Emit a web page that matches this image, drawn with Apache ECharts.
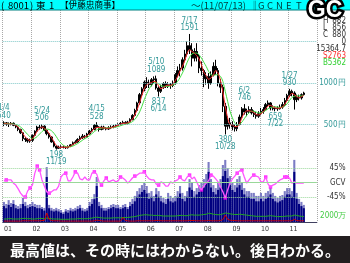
<!DOCTYPE html>
<html><head><meta charset="utf-8">
<script src="https://cdn.jsdelivr.net/npm/echarts@6/dist/echarts.min.js"></script>
<style>html,body{margin:0;padding:0;background:#fff}#c{width:350px;height:263px}</style>
</head><body><div id="c"></div><script>
// ---- categories (monthly, Jan 2001 .. Jul 2011, plus empty months to the right edge) ----
const startYear = 2001;
const monthCount = 127;
const padMonths = 5;
const categories = [];
for (let i = 0; i < monthCount + padMonths; i++) {
  const y = startYear + Math.floor(i / 12), m = i % 12 + 1;
  categories.push(y + '-' + String(m).padStart(2, '0'));
}

// ---- monthly prices (yen) ----
const priceOpen = [
  505,520,500,505,515,490,470,440,400,330,320,300,
  310,370,420,470,460,480,430,390,350,290,240,215,
  225,230,225,220,235,255,280,290,320,340,360,350,
  385,420,440,490,470,440,470,455,445,460,470,480,
  490,500,515,525,510,530,560,610,670,760,860,930,
  1010,1000,980,1040,1050,940,900,950,990,960,980,970,
  1000,1100,1150,1180,1280,1350,1450,1400,1300,1380,1320,1180,
  1150,1050,1080,1000,1100,1200,1150,1000,950,720,480,520,
  500,470,450,500,590,690,650,660,680,640,620,600,
  630,660,680,740,760,700,690,700,690,710,740,790,
  850,900,880,800,830,820,860
];
const priceClose = [
  520,500,505,515,490,470,440,400,330,320,300,310,
  370,420,470,460,480,430,390,350,290,240,215,225,
  230,225,220,235,255,280,290,320,340,360,350,385,
  420,440,490,470,440,470,455,445,460,470,480,490,
  500,515,525,510,530,560,610,670,760,860,930,1010,
  1000,980,1040,1050,940,900,950,990,960,980,970,1000,
  1100,1150,1180,1280,1350,1450,1400,1300,1380,1320,1180,1150,
  1050,1080,1000,1100,1200,1150,1000,950,720,480,520,500,
  470,450,500,590,690,650,660,680,640,620,600,630,
  660,680,740,760,700,690,700,690,710,740,790,850,
  900,880,800,830,820,860,880
];
const priceLow = [
  480,485,470,490,480,455,420,385,300,290,280,280,
  290,360,410,440,445,420,370,330,280,225,198,205,
  210,212,205,210,228,250,270,280,305,325,330,340,
  380,405,430,455,415,430,440,430,435,445,455,465,
  475,490,500,495,500,525,550,600,655,740,830,900,
  940,940,960,1000,920,837,880,930,940,940,930,950,
  980,1070,1080,1150,1250,1320,1350,1200,1260,1260,1120,1090,
  950,980,930,980,1080,1100,960,880,650,380,440,450,
  430,415,420,490,570,620,600,640,620,590,570,580,
  610,630,670,720,670,670,659,665,680,690,720,780,
  830,840,680,770,790,800,845
];
const priceHigh = [
  540,530,525,530,525,500,480,450,410,350,335,330,
  380,430,485,495,506,490,440,400,360,300,250,245,
  250,245,240,250,265,295,310,335,365,385,375,400,
  435,460,505,528,480,485,485,470,480,490,495,505,
  515,530,545,540,545,575,625,690,775,880,950,1030,
  1070,1040,1060,1080,1089,960,980,1010,1020,1010,1000,1030,
  1120,1200,1230,1310,1400,1500,1591,1480,1420,1480,1350,1260,
  1170,1130,1120,1140,1250,1280,1180,1050,980,760,600,580,
  540,500,530,620,710,746,690,720,710,670,650,660,
  700,710,760,790,770,730,720,720,740,770,820,870,
  930,920,900,860,860,875,895
];
// short (red) and long (green) moving-average lines
const maShort = [
  510,510,505,505,500,490,465,435,390,350,320,310,
  330,370,420,450,470,455,430,390,345,295,250,225,
  225,228,225,228,240,260,275,300,320,340,350,365,
  390,420,450,465,465,460,460,455,455,460,470,480,
  490,505,515,515,520,535,565,615,680,760,850,935,
  980,995,1005,1020,1010,965,930,945,965,975,970,985,
  1030,1080,1145,1200,1270,1360,1400,1380,1360,1330,1290,1220,
  1130,1090,1045,1060,1100,1150,1120,1030,890,720,580,500,
  495,475,475,510,580,640,665,665,660,645,620,615,
  630,655,690,725,730,715,700,695,700,710,745,790,
  845,875,860,840,820,835,850
];
const maLong = [
  515,512,510,508,505,500,490,470,445,410,380,350,
  330,335,355,385,415,435,445,440,425,395,355,310,
  275,250,235,230,232,240,255,270,290,310,330,345,
  365,390,415,435,450,455,460,460,460,460,465,470,
  475,485,495,505,512,520,535,560,600,650,720,800,
  870,930,970,1000,1005,990,970,960,960,960,965,975,
  990,1020,1065,1120,1180,1250,1310,1350,1360,1360,1340,1300,
  1250,1200,1140,1100,1090,1100,1100,1080,1020,900,780,660,
  580,520,495,500,530,570,610,640,660,660,650,640,
  640,650,670,690,705,710,715,710,705,710,725,750,
  790,825,840,845,845,845,850
];
const priceGridLevels = [500, 1000, 1500];

// ---- high / low annotations ----
const annotMonth = ['2001-01','2002-05','2002-11','2004-04','2006-05','2006-06','2007-07','2008-10','2009-06','2010-07','2011-01'];
const annotValue = [540,506,198,528,1089,837,1591,380,746,659,930];
const annotDate  = ['1/4','5/24','11/19','4/15','5/10','6/14','7/17','10/28','6/2','7/22','1/27'];
const annotIsHigh = [true,true,false,true,true,false,true,false,true,false,true];

// ---- GCV oscillator (%) ----
const gcv = [
  5,8,8,8,-2,-8,-20,-33,-42,-45,-26,-17,
  -8,29,51,39,8,-11,-29,-33,-29,-23,-23,-11,
  17,26,29,5,5,17,33,29,11,8,17,8,
  8,29,33,26,2,-8,5,14,2,5,8,2,
  5,17,14,8,-2,5,14,20,23,29,29,33,
  20,11,8,8,-5,-8,2,-2,-11,-11,2,-2,
  5,8,17,8,5,17,23,11,17,2,-14,-23,
  -11,-2,5,23,20,11,2,-14,-29,-48,-23,-2,
  11,20,29,36,39,17,-2,8,17,23,20,17,
  2,2,17,-5,-14,-8,-5,2,8,11,17,17,
  14,-2,2,-2,-2,-2,-2
];
const gcvMarkIdx = [1,9,11,14,15,19,26,30,38,41,43,49,55,59,65,74,78,83,87,93,98,100,105,110,112,118,119];
const gcvLevels = [45, 0, -45];

// ---- volume (万株): typical level and peak level per month, plus balance lines ----
const volume = [
  5300,4600,5700,5000,6000,4600,4300,4600,6000,5300,4600,5000,
  5300,5000,4600,4600,4300,3800,15000,4600,3800,3500,3800,3500,
  3100,2700,3500,3100,3800,3500,3800,4300,4600,3800,3500,3800,
  5300,6000,7600,12000,5300,4600,3800,3800,4300,4600,5000,4600,
  4600,4300,4600,5000,4300,5300,6000,6900,8400,9200,10000,10700,
  9500,7700,8400,6900,9200,8400,6900,6500,6000,7700,6900,6500,
  6900,8400,9500,7700,6900,8400,11500,10700,8400,9200,10000,10700,
  11500,13000,16700,11500,10000,9200,10700,11500,15300,17000,14600,12300,
  10700,10000,11500,12300,10700,9200,8400,8400,7700,7700,6900,6900,
  7700,6900,7700,8400,9200,7700,6900,6500,6900,7300,8400,9200,
  9200,8400,16700,7700,6000,5300,4600
];
const volumePeak = [
  6700,6000,7300,6300,7300,5700,5300,6000,8000,6700,5700,6000,
  6700,6000,5700,5700,5000,4700,18300,5700,4700,4300,4700,4300,
  4000,3300,4300,4000,4700,4300,4700,5300,5700,4700,4300,4700,
  6700,7700,9300,15000,6700,5700,4700,4700,5000,5700,6000,5700,
  5700,5000,5700,6000,5000,6700,7700,8700,10300,11300,12300,13300,
  12000,9700,10300,8700,11300,10300,8700,8000,7700,9700,8700,8000,
  8700,10300,12000,9700,8700,10300,14300,13300,10300,11300,12300,13300,
  14300,16000,20000,14300,12300,11300,13300,14300,19000,20700,18000,15300,
  13300,12300,14300,15300,13300,11300,10300,10300,9700,9700,8700,8700,
  9700,8700,9700,10300,11300,9700,8700,8000,8700,9000,10300,11300,
  11300,10300,20700,9700,7700,6700,5700
];
const buyLine = [
  1000,1000,1100,1100,1000,1000,1000,1100,1200,1200,1100,1100,
  1000,1000,1100,1200,1200,1100,1300,1200,1100,1000,1000,1000,
  900,900,900,900,1000,1000,1000,1100,1100,1100,1100,1100,
  1200,1300,1500,1600,1500,1400,1300,1300,1300,1300,1400,1400,
  1400,1400,1500,1500,1500,1600,1700,1800,2000,2200,2300,2400,
  2400,2300,2300,2200,2200,2200,2100,2000,2000,2000,2000,2000,
  2000,2100,2200,2200,2100,2100,2300,2400,2300,2300,2300,2400,
  2500,2600,2900,2800,2600,2500,2400,2500,2700,3000,2900,2700,
  2600,2500,2500,2600,2500,2400,2300,2200,2100,2000,1900,1900,
  1900,1900,1900,2000,2100,2000,1900,1800,1800,1800,1900,2000,
  2000,2000,2300,2200,2000,1900,1800
];
const sellLine = [
  300,300,300,300,300,300,300,300,400,400,400,400,
  400,400,400,400,500,500,3000,800,500,400,400,400,
  300,300,300,300,300,300,300,300,300,300,300,300,
  300,300,400,600,500,400,300,300,300,300,300,300,
  300,300,1500,500,400,300,300,300,400,400,400,400,
  400,400,400,400,500,500,400,400,400,400,400,400,
  400,400,400,400,400,400,500,500,500,400,400,400,
  400,400,500,400,400,400,400,500,800,2300,900,600,
  500,500,400,400,400,400,400,400,400,400,400,400,
  400,400,400,400,400,400,400,400,400,400,400,400,
  400,400,900,500,400,400,400
];

// ---- header texts and stats ----
const titleParts = ['(', '8001', ')', '東', '1', '【伊藤忠商事】'];
const dateText = '～(11/07/13)';
const netParts = ['‖', 'G', 'C', 'N', 'E', 'T'];
const statKeys = ['H','L','C','','','S','B'];
const statVals = ['882','856','880','0','15364.7','2763','5362'];
const statColors = ['#333','#333','#333','#333','#333','#ff3030','#30d030'];
const bannerText = '最高値は、その時にはわからない。後日わかる。';

// ---------------------------------------------------------------
const narrow = "'Liberation Sans Narrow','DejaVu Sans Condensed',sans-serif";
const candles = priceOpen.map((o, i) => [o, priceClose[i], priceLow[i], priceHigh[i]]);
const GL = 2.7, GW = 314.2;

const markPts = annotMonth.map((m, i) => ({
  coord: [m, annotValue[i]],
  label: {
    position: annotIsHigh[i] ? 'top' : 'bottom',
    distance: annotIsHigh[i] ? 2 : 1.5,
    formatter: annotIsHigh[i] ? annotDate[i] + '\n' + annotValue[i] : annotValue[i] + '\n' + annotDate[i]
  }
}));

const headG = [];
const titleX = [1, 8, 30, 36, 49, 60];
titleParts.forEach((t, i) => headG.push({type:'text', x:titleX[i], y:5.2,
  style:{text:t, fill:'#000', font:(i===5?'8.6px':'9.5px') + ' "Noto Sans CJK JP"', verticalAlign:'middle'}}));
headG.push({type:'text', x:191, y:5.2, style:{text:dateText, fill:'#003a3a', font:'9.5px "Noto Sans CJK JP"', verticalAlign:'middle'}});
const netX = [250, 258, 267, 276, 286, 296];
netParts.forEach((t, i) => headG.push({type:'text', x:netX[i], y:5.2,
  style:{text:t, fill:'#003a3a', font:'9.5px "Noto Sans CJK JP"', verticalAlign:'middle'}}));

const statGraphics = [];
statVals.forEach((v, i) => {
  const y = 21 + i * 7;
  if (statKeys[i]) statGraphics.push({type:'text', x:323, y:y, style:{text:statKeys[i], fill:statColors[i], font:'8px ' + narrow, verticalAlign:'middle'}});
  statGraphics.push({type:'text', x:346, y:y, style:{text:v, fill:statColors[i], font:'8px ' + narrow, align:'right', verticalAlign:'middle'}});
});

const chart = echarts.init(document.getElementById('c'), null, {renderer:'canvas', width:350, height:263});
const hiddenY = {axisLine:{show:false}, axisTick:{show:false}, splitLine:{show:false}};
chart.setOption({
  animation: false,
  backgroundColor: '#ffffff',
  grid: [
    {left:GL, top:10, width:GW, height:156, outerBoundsMode:'none'},
    {left:GL, top:153.5, width:GW, height:58, outerBoundsMode:'none'},
    {left:GL, top:150, width:GW, height:72, outerBoundsMode:'none'}
  ],
  xAxis: [
    {type:'category', gridIndex:0, data:categories, boundaryGap:true,
     axisLine:{show:false}, axisTick:{show:false}, axisLabel:{show:false},
     splitLine:{show:true, interval:(i)=>i%12===0, lineStyle:{type:'dotted', color:'#a8a8a8', width:1}}},
    {type:'category', gridIndex:1, data:categories, boundaryGap:true,
     axisLine:{show:false}, axisTick:{show:false}, axisLabel:{show:false}, splitLine:{show:false}},
    {type:'category', gridIndex:2, data:categories, boundaryGap:true,
     axisLine:{show:true, lineStyle:{color:'#404060', width:1}}, axisTick:{show:false},
     axisLabel:{show:true, interval:(i)=>i%12===0, formatter:(v)=>v.slice(2,4), align:'left', margin:4,
                fontSize:7, color:'#333', fontFamily:narrow},
     splitLine:{show:true, interval:(i)=>i%12===0, lineStyle:{type:'dotted', color:'#a8a8a8', width:1}}}
  ],
  yAxis: [
    Object.assign({type:'value', gridIndex:0, min:0, max:1880, interval:500, position:'right',
     axisLabel:{formatter:(v)=>(v===500||v===1000)? v+'円' : '', align:'right', margin:28.6,
                fontSize:8, color:'#339999', fontFamily:narrow}}, hiddenY),
    Object.assign({type:'value', gridIndex:1, min:-90, max:90, interval:45, position:'right',
     axisLabel:{formatter:(v)=>v===45?'45%':(v===0?'GCV':(v===-45?'-45%':'')), align:'right', margin:28.6,
                fontSize:8, color:'#333', fontFamily:narrow}}, hiddenY),
    Object.assign({type:'value', gridIndex:2, min:0, max:24000, interval:2000, position:'right',
     axisLabel:{formatter:(v)=>v===2000?'2000万':'', align:'right', margin:29.5,
                fontSize:8, color:'#44cc44', fontFamily:narrow}}, hiddenY)
  ],
  series: [
    {type:'bar', xAxisIndex:2, yAxisIndex:2, data:volumePeak, barCategoryGap:'12%', barGap:'-100%',
     itemStyle:{color:'#7c7cc4'}, silent:true},
    {type:'bar', xAxisIndex:2, yAxisIndex:2, data:volume, barCategoryGap:'12%', barGap:'-100%',
     itemStyle:{color:'#000080'}, silent:true},
    {type:'line', xAxisIndex:2, yAxisIndex:2, data:buyLine, showSymbol:false,
     lineStyle:{color:'#22aa22', width:1}, silent:true},
    {type:'line', xAxisIndex:2, yAxisIndex:2, data:sellLine, showSymbol:false,
     lineStyle:{color:'#cc0000', width:1}, silent:true},
    {type:'line', xAxisIndex:1, yAxisIndex:1, data:gcv, showSymbol:false,
     lineStyle:{color:'#ff55ff', width:1.3}, silent:true,
     markLine:{silent:true, symbol:'none', label:{show:false},
       data: gcvLevels.map(v => ({yAxis:v, lineStyle:{type: v===0?'solid':'dotted', color:'#99d899', width:1}}))}},
    {type:'scatter', xAxisIndex:1, yAxisIndex:1, data:gcvMarkIdx.map(i => [i, gcv[i]]),
     symbol:'rect', symbolSize:3.5, itemStyle:{color:'#ff00ff'}, silent:true},
    {type:'line', xAxisIndex:0, yAxisIndex:0, data:maLong, showSymbol:false, smooth:0.3,
     lineStyle:{color:'#44e044', width:1}, silent:true},
    {type:'line', xAxisIndex:0, yAxisIndex:0, data:maShort, showSymbol:false, smooth:0.3,
     lineStyle:{color:'#ff3030', width:1}, silent:true},
    {type:'candlestick', xAxisIndex:0, yAxisIndex:0, data:candles, barWidth:2, silent:true,
     itemStyle:{color:'#000', color0:'#000', borderColor:'#000', borderColor0:'#000', borderWidth:1},
     markLine:{silent:true, symbol:'none', label:{show:false},
       lineStyle:{type:'dotted', color:'#80c8c8', width:1},
       data: priceGridLevels.map(v => ({yAxis:v}))},
     markPoint:{silent:true, symbol:'circle', symbolSize:0,
       label:{show:true, color:'#339999', fontSize:8, lineHeight:7.5, fontFamily:narrow, align:'center'},
       data: markPts}}
  ],
  graphic: [
    {type:'rect', shape:{x:0, y:0, width:350, height:10}, style:{fill:'#00ffff'}, z:10},
    {type:'rect', shape:{x:0, y:9.5, width:350, height:1}, style:{fill:'#008080'}, z:10},
    ...headG.map(g => Object.assign(g, {z:11})),
    {type:'text', x:325, y:11, style:{text:'GC', fill:'#ffffff', stroke:'#000000', lineWidth:5, font:'bold 23px "Liberation Sans"', align:'center', verticalAlign:'middle'}, z:12},
    ...statGraphics.map(g => Object.assign(g, {z:11})),
    {type:'rect', shape:{x:0, y:236, width:350, height:27}, style:{fill:'#221e1f'}, z:10},
    {type:'text', x:175, y:250.5, style:{text:bannerText, fill:'#ffffff', font:'bold 15px "Noto Sans CJK JP"', align:'center', verticalAlign:'middle'}, z:11}
  ]
});
</script></body></html>
